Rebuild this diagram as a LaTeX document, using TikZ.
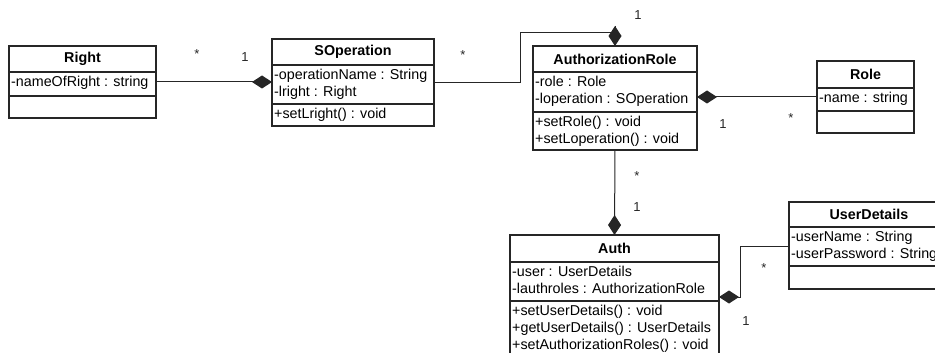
\documentclass[tikz,border=0pt]{standalone}
\usepackage{fontspec}
\setmainfont{Liberation Sans}
\usetikzlibrary{arrows.meta,calc}
\tikzset{
  classbox/.style={draw=black!85, line width=1.3pt, inner sep=0pt, outer sep=0pt},
  sepline/.style={draw=black!85, line width=1.3pt},
  titletext/.style={font=\bfseries\fontsize{14.3}{17}\selectfont, inner sep=0pt},
  membertext/.style={font=\fontsize{14.3}{17}\selectfont, align=left, inner sep=0pt, anchor=north west},
  mult/.style={font=\fontsize{13}{15}\selectfont, inner sep=0pt, text=black!85},
  conn/.style={draw=black!85, line width=1pt},
  comp/.style={conn, -{Diamond[length=20pt,width=13pt]}},
}
% \umlclass{name}{(x,y) of top left}{width}{title h}{attr h}{method h}{title}{attributes}{methods}
\newcommand\umlclass[9]{%
  \node[classbox, anchor=north west, minimum width=#3, minimum height=#4+#5+#6] (#1) at #2 {};
  \draw[sepline] ($(#1.north west)+(0,#4)$) -- ++(#3,0);
  \draw[sepline] ($(#1.north west)+(0,#4+#5)$) -- ++(#3,0);
  \node[titletext] (#1-t) at ($(#1.north)+(0,#4/2)$) {#7};
  \node[membertext] (#1-a) at ($(#1.north west)+(2,#4+4)$) {#8};
  \node[membertext] (#1-m) at ($(#1.north west)+(2,#4+#5+4)$) {#9};
}
\begin{document}
\begin{tikzpicture}[x=1pt,y=-1pt]
  \useasboundingbox (0,0) rectangle (935,353);
  \clip (0,0) rectangle (935,353);

  % classes
  \umlclass{right}{(9,46)}{147}{26}{24}{22}{Right}{-nameOfRight : string}{}
  \umlclass{sop}{(272,39)}{162}{26}{39}{22}{SOperation}{-operationName : String\\-lright : Right}{+setLright() : void}
  \umlclass{ar}{(533,46)}{164}{26}{40}{38}{AuthorizationRole}{-role : Role\\-loperation : SOperation}{+setRole() : void\\+setLoperation() : void}
  \umlclass{role}{(817,61)}{97}{27}{23}{22}{Role}{-name : string}{}
  \umlclass{auth}{(510,235)}{209}{27}{39}{62}{Auth}{-user : UserDetails\\-lauthroles : AuthorizationRole}{+setUserDetails() : void\\+getUserDetails() : UserDetails\\+setAuthorizationRoles() : void}
  \umlclass{ud}{(789,202)}{160}{25}{39}{23}{UserDetails}{-userName : String\\-userPassword : String}{}

  % compositions
  \draw[comp] (right.east) -- (right.east -| sop.west);
  \draw[conn] (sop.east) -- ++(86,0) |- ($(ar.north)+(0,-13)$);
  \draw[comp] ($(ar.north)+(0,-20)$) -- (ar.north);
  \draw[comp] (role.west) -- (role.west -| ar.east);
  \draw[comp] (ar.south) -- (auth.north);
  \coordinate (udend) at ($(ud.north west)+(0,44)$);
  \coordinate (authend) at ($(auth.north east)+(0,62)$);
  \draw[comp] (udend) -- ++(-49,0) |- (authend);

  % multiplicities
  \node[mult] (m1) at (197,54) {*};
  \node[mult] (m2) at (245,57) {1};
  \node[mult] (m3) at (463,55) {*};
  \node[mult] (m4) at (638,15) {1};
  \node[mult] (m5) at (723,124) {1};
  \node[mult] (m6) at (791,118) {*};
  \node[mult] (m7) at (637,176) {*};
  \node[mult] (m8) at (637,207) {1};
  \node[mult] (m9) at (764,268) {*};
  \node[mult] (m10) at (746,321) {1};
\end{tikzpicture}
\end{document}
